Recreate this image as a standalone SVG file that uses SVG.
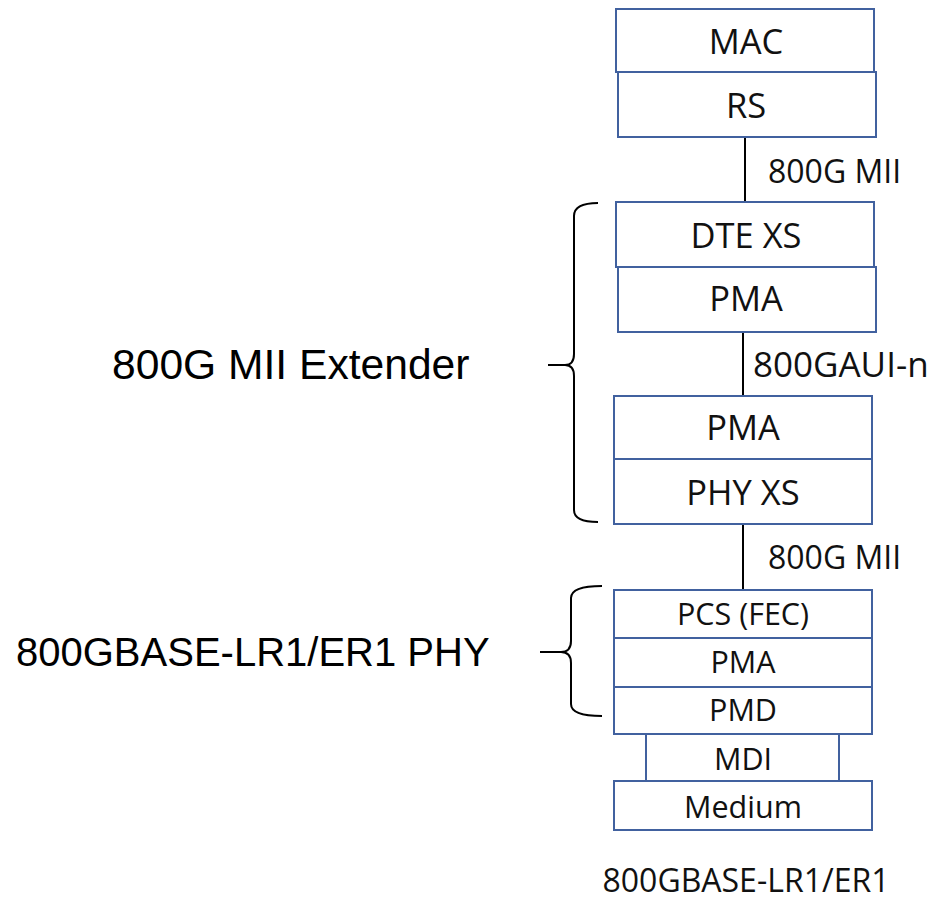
<svg xmlns="http://www.w3.org/2000/svg" width="935" height="902" viewBox="0 0 935 902">
<style>
.box{fill:#fff;stroke:#41619f;stroke-width:2}
.t{font-family:"Open Sans","DejaVu Sans",sans-serif;fill:#111;text-anchor:middle}
.big{font-size:34.5px}
.sm{font-size:30.5px}
.lbl{font-family:"Open Sans","DejaVu Sans",sans-serif;fill:#111;font-size:32px}
.side{font-family:"Liberation Sans",Arial,sans-serif;fill:#000}
.ln{stroke:#000;stroke-width:2;fill:none}
</style>
<rect width="935" height="902" fill="#fff"/>
<g id="connectors">
<line class="ln" x1="745" y1="137" x2="745" y2="202"/>
<line class="ln" x1="743" y1="332" x2="743" y2="396"/>
<line class="ln" x1="743" y1="524" x2="743" y2="590"/>
<text class="lbl" x="768" y="183">800G MII</text>
<text class="lbl" x="753" y="377" style="font-size:35px">800GAUI-n</text>
<text class="lbl" x="768" y="569">800G MII</text>
</g>
<g id="mac"><rect class="box" x="616" y="9" width="258" height="63"/><text class="t big" x="746" y="54">MAC</text></g>
<g id="rs"><rect class="box" x="618" y="72" width="258" height="65"/><text class="t big" x="746" y="118">RS</text></g>
<g id="dtexs"><rect class="box" x="616" y="202" width="258" height="65"/><text class="t big" x="746" y="248">DTE XS</text></g>
<g id="pma1"><rect class="box" x="618" y="267" width="258" height="65"/><text class="t big" x="746" y="311">PMA</text></g>
<g id="pma2"><rect class="box" x="614" y="396" width="258" height="63"/><text class="t big" x="743" y="440">PMA</text></g>
<g id="phyxs"><rect class="box" x="614" y="459" width="258" height="65"/><text class="t big" x="743" y="505">PHY XS</text></g>
<g id="pcs"><rect class="box" x="614" y="590" width="258" height="48"/><text class="t sm" x="743" y="625">PCS (FEC)</text></g>
<g id="pma3"><rect class="box" x="614" y="638" width="258" height="49"/><text class="t sm" x="743" y="673">PMA</text></g>
<g id="pmd"><rect class="box" x="614" y="687" width="258" height="47"/><text class="t sm" x="743" y="721">PMD</text></g>
<g id="mdi"><rect class="box" x="646" y="734" width="193" height="47"/><text class="t sm" x="743" y="770">MDI</text></g>
<g id="medium"><rect class="box" x="614" y="781" width="258" height="49"/><text class="t sm" x="743" y="818">Medium</text></g>
<g id="extender">
<path class="ln" d="M598,203 Q574,203 574,216 L574,354 Q574,365 565,365 Q574,365 574,376 L574,510 Q574,522 598,522"/>
<line class="ln" x1="548" y1="365" x2="566" y2="365"/>
<text class="side" x="112" y="379" font-size="42.6">800G MII Extender</text>
</g>
<g id="phy">
<path class="ln" d="M602,586 Q571,586 571,598 L571,641 Q571,652 561,652 Q571,652 571,663 L571,704 Q571,716 602,716"/>
<line class="ln" x1="540" y1="652" x2="562" y2="652"/>
<text class="side" x="16" y="666" font-size="40">800GBASE-LR1/ER1 PHY</text>
</g>
<text class="t" x="746" y="892" style="font-size:32px">800GBASE-LR1/ER1</text>
</svg>
